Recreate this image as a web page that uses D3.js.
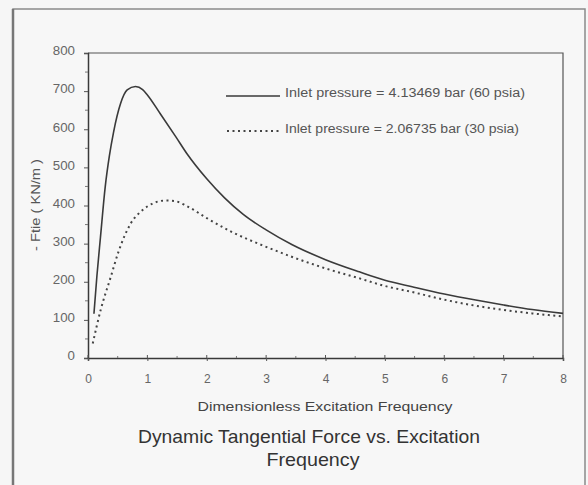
<!DOCTYPE html>
<html>
<head>
<meta charset="utf-8">
<script src="https://cdn.jsdelivr.net/npm/d3@7"></script>
<style>
  html, body { margin: 0; padding: 0; background: #f6f6f6; }
  svg { display: block; font-family: "Liberation Sans", Arial, sans-serif; }
</style>
</head>
<body>
<svg id="chart" width="588" height="485"></svg>
<script>
// ---- data ----
const freq60 = [0.1, 0.15, 0.21, 0.29, 0.36, 0.43, 0.55, 0.66, 0.8, 0.92, 1.0, 1.22, 1.48, 1.67, 2.0, 2.3, 2.62, 3.0, 3.44, 4.0, 4.57, 5.0, 5.46, 6.0, 6.53, 7.0, 7.48, 8.0];
const force60 = [116, 215, 317, 449, 530, 592, 668, 703, 712, 704, 690, 640, 580, 535, 470, 420, 376, 336, 297, 258, 226, 204, 187, 168, 152, 139, 127, 117];
const freq30 = [0.08, 0.21, 0.38, 0.51, 0.72, 0.92, 1.1, 1.3, 1.45, 1.67, 2.0, 2.43, 2.93, 3.44, 4.0, 4.57, 5.0, 5.46, 6.0, 6.53, 7.0, 7.48, 8.0];
const force30 = [38, 124, 211, 277, 353, 388, 406, 413, 412, 398, 367, 330, 296, 265, 235, 209, 189, 173, 153, 137, 126, 117, 109];
const xTicks = [0, 1, 2, 3, 4, 5, 6, 7, 8];
const yTicks = [0, 100, 200, 300, 400, 500, 600, 700, 800];
const seriesLabels = ["Inlet pressure = 4.13469 bar (60 psia)", "Inlet pressure = 2.06735 bar (30 psia)"];
const xTitle = "Dimensionless Excitation Frequency";
const yTitle = "- Ftie  ( KN/m )";
const titleLines = ["Dynamic Tangential Force vs. Excitation", "Frequency"];

// ---- layout ----
const svg = d3.select("#chart");
const L = 88, R = 563, T = 53, B = 358;
const x = d3.scaleLinear().domain([0, 8]).range([L, R]);
const y = d3.scaleLinear().domain([0, 800]).range([B, T]);
const ink = "#3a3a3a";

// outer frame
svg.append("rect").attr("x", 13).attr("y", 9).attr("width", 572).attr("height", 490)
  .attr("fill", "#f7f7f7").attr("stroke", "#8a8a8a").attr("stroke-width", 1.5);
svg.append("line").attr("x1", 13).attr("x2", 13).attr("y1", 9).attr("y2", 485)
  .attr("stroke", "#777").attr("stroke-width", 2.5);

// plot frame (top & right)
svg.append("path").attr("d", `M${L},${T}H${R}V${B}`).attr("fill", "none")
  .attr("stroke", "#555").attr("stroke-width", 1.2);

// axes
const yAxis = d3.axisLeft(y).tickValues(yTicks).tickSize(4).tickPadding(9);
const gy = svg.append("g").attr("transform", `translate(${L},0)`).call(yAxis);
gy.selectAll("text").attr("font-size", 12).attr("fill", "#666").attr("dy", "0.15em")
  .attr("textLength", d => String(d).length * 7.4).attr("lengthAdjust", "spacingAndGlyphs");
const xAxis = d3.axisBottom(x).tickValues(xTicks).tickSize(3).tickPadding(13);
const gx = svg.append("g").attr("transform", `translate(0,${B})`).call(xAxis);
gx.selectAll("text").attr("font-size", 12).attr("fill", "#666");
[gx, gy].forEach(g => {
  g.select(".domain").attr("stroke", ink).attr("stroke-width", 1.5);
  g.selectAll(".tick line").attr("stroke", "#555");
});
// minor ticks
const yMinor = d3.range(50, 800, 100);
svg.append("g").selectAll("line").data(yMinor).join("line")
  .attr("x1", L - 3).attr("x2", L).attr("y1", d => y(d)).attr("y2", d => y(d))
  .attr("stroke", "#777");
const xMinor = d3.range(0.5, 8, 1);
svg.append("g").selectAll("line").data(xMinor).join("line")
  .attr("x1", d => x(d)).attr("x2", d => x(d)).attr("y1", B - 2).attr("y2", B)
  .attr("stroke", "#777");
svg.append("g").selectAll("line").data(xTicks).join("line")
  .attr("x1", d => x(d)).attr("x2", d => x(d)).attr("y1", B - 3).attr("y2", B)
  .attr("stroke", "#555");

// lines
const line = d3.line().x(d => x(d[0])).y(d => y(d[1])).curve(d3.curveMonotoneX);
svg.append("path").datum(d3.zip(freq60, force60)).attr("d", line)
  .attr("fill", "none").attr("stroke", ink).attr("stroke-width", 1.6);
svg.append("path").datum(d3.zip(freq30, force30)).attr("d", line)
  .attr("fill", "none").attr("stroke", "#444").attr("stroke-width", 2)
  .attr("stroke-dasharray", "2,3.5");

// legend
const leg = svg.append("g");
leg.append("line").attr("x1", 226).attr("x2", 280).attr("y1", 96).attr("y2", 96)
  .attr("stroke", ink).attr("stroke-width", 1.5);
leg.append("line").attr("x1", 227).attr("x2", 282).attr("y1", 131).attr("y2", 131)
  .attr("stroke", "#444").attr("stroke-width", 2).attr("stroke-dasharray", "2,3.5");
leg.selectAll("text").data(seriesLabels).join("text")
  .attr("x", 285).attr("y", (d, i) => i === 0 ? 97 : 133)
  .attr("font-size", 12.5).attr("fill", "#555")
  .attr("textLength", (d, i) => i === 0 ? 240 : 234).attr("lengthAdjust", "spacingAndGlyphs")
  .text(d => d);

// axis titles
svg.append("text").attr("x", 325).attr("y", 411).attr("text-anchor", "middle")
  .attr("font-size", 13).attr("fill", "#444")
  .attr("textLength", 255).attr("lengthAdjust", "spacingAndGlyphs").text(xTitle);
svg.append("text").attr("transform", "translate(40,205) rotate(-90)")
  .attr("text-anchor", "middle").attr("font-size", 13).attr("fill", "#555")
  .attr("textLength", 92).attr("lengthAdjust", "spacingAndGlyphs").text(yTitle);

// chart title
svg.append("g").selectAll("text").data(titleLines).join("text")
  .attr("x", (d, i) => i === 0 ? 309 : 313).attr("y", (d, i) => 443 + i * 23)
  .attr("text-anchor", "middle").attr("font-size", 19).attr("fill", "#333")
  .attr("textLength", (d, i) => i === 0 ? 342 : 93).attr("lengthAdjust", "spacingAndGlyphs")
  .text(d => d);
</script>
</body>
</html>
